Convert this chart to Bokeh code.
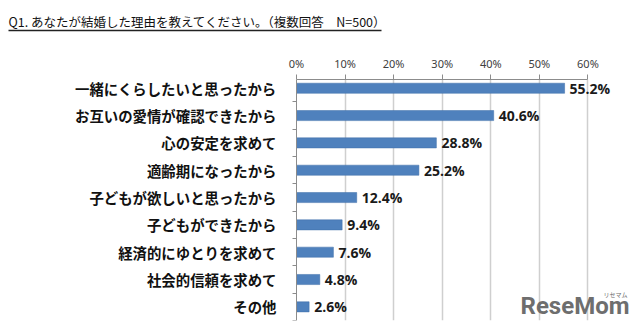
from bokeh.plotting import figure
from bokeh.models import (Range1d, FixedTicker, PrintfTickFormatter, ColumnDataSource,
                          Label, LinearAxis, Title)
from bokeh.core.properties import value
from bokeh.embed import file_html
from bokeh.resources import INLINE

title_text = "Q1. あなたが結婚した理由を教えてください。（複数回答　N=500）"
categories = ["一緒にくらしたいと思ったから", "お互いの愛情が確認できたから", "心の安定を求めて",
              "適齢期になったから", "子どもが欲しいと思ったから", "子どもができたから",
              "経済的にゆとりを求めて", "社会的信頼を求めて", "その他"]
values = [55.2, 40.6, 28.8, 25.2, 12.4, 9.4, 7.6, 4.8, 2.6]
x_ticks = [0, 10, 20, 30, 40, 50, 60]

idx = list(range(len(categories)))
src = ColumnDataSource(dict(y=idx, v=values, lab=[f"{v:.1f}%" for v in values]))

W, H = 640, 328
X0 = 296            # canvas x of 0%
PX = 4.857          # pixels per percent
FB = 320            # frame bottom in canvas pixels

p = figure(width=W, height=H, output_backend="svg", toolbar_location=None,
           x_axis_location="above",
           x_range=Range1d(-X0 / PX, (W - X0) / PX), y_range=Range1d(8.5, -0.32),
           min_border_left=0, min_border_right=0, min_border_top=79, min_border_bottom=H - FB)
p.outline_line_color = None
p.background_fill_color = "white"
p.border_fill_color = "white"

p.hbar(y="y", right="v", left=0, height=0.37, source=src, fill_color="#4F81BD",
       line_color="#3F6FA8", line_width=0.5)
p.text(x="v", y="y", text="lab", source=src, x_offset=5, text_baseline="middle",
       text_align="left", text_font=value("Open Sans"), text_font_style="bold",
       text_font_size="14px", text_color="#1a1a1a")

xa = p.xaxis[0]
xa.ticker = FixedTicker(ticks=x_ticks)
xa.bounds = (0, 60)
xa.formatter = PrintfTickFormatter(format="%d%%")
xa.major_tick_out = 5
xa.major_tick_in = 0
xa.minor_tick_out = 0
xa.minor_tick_in = 0
xa.axis_line_color = "#8c8c8c"
xa.major_tick_line_color = "#8c8c8c"
xa.major_label_text_font = "Noto Sans"
xa.major_label_text_font_size = "11px"
xa.major_label_text_color = "#404040"
xa.major_label_standoff = 4

# spacer between the value axis and the title underline (invisible tick only)
spacer = LinearAxis(ticker=FixedTicker(ticks=[30]), major_tick_out=22, major_tick_in=0,
                    major_tick_line_alpha=0, axis_line_alpha=0, minor_tick_out=0,
                    major_label_overrides={30: ""}, major_label_standoff=0)
p.add_layout(spacer, "above")
# title underline
uline = LinearAxis(ticker=FixedTicker(ticks=[]), bounds=((8 - X0) / PX, (381 - X0) / PX),
                   axis_line_color="#222222", axis_line_width=1.3, major_tick_out=0,
                   minor_tick_out=0, major_label_standoff=0)
p.add_layout(uline, "above")

p.title = Title(text=title_text, align="left", offset=8, standoff=0,
                text_font="Noto Sans CJK JP", text_font_size="12.5px",
                text_font_style="normal", text_color="#111111")

ya = p.yaxis[0]
ya.fixed_location = 0
ya.ticker = FixedTicker(ticks=idx, minor_ticks=[i + 0.5 for i in idx])
ya.major_label_overrides = {i: c for i, c in zip(idx, categories)}
ya.major_tick_out = 0
ya.major_tick_in = 0
ya.minor_tick_out = 4
ya.minor_tick_in = 0
ya.axis_line_color = "#8c8c8c"
ya.minor_tick_line_color = "#8c8c8c"
ya.major_label_text_font = "Noto Sans CJK JP"
ya.major_label_text_font_style = "bold"
ya.major_label_text_font_size = "14.4px"
ya.major_label_text_color = "#111111"
ya.major_label_standoff = 16

p.xgrid.ticker = FixedTicker(ticks=x_ticks[1:])
p.xgrid.grid_line_color = "#cfcfcf"
p.xgrid.grid_line_width = 1.5
p.ygrid.grid_line_color = None

# watermark (screen units are relative to the frame)
p.add_layout(Label(x=629, y=FB - 319, x_units="screen", y_units="screen", text="ReseMom",
                   text_font="Roboto", text_font_style="bold", text_align="right",
                   text_font_size="24px", text_color="#6e6e6e", text_baseline="bottom"))
p.add_layout(Label(x=627, y=FB - 298, x_units="screen", y_units="screen", text="リセマム",
                   text_font="Noto Sans CJK JP", text_font_size="6px", text_color="#6e6e6e",
                   text_baseline="bottom", text_align="right"))

open("out.html", "w").write(file_html(p, INLINE))
